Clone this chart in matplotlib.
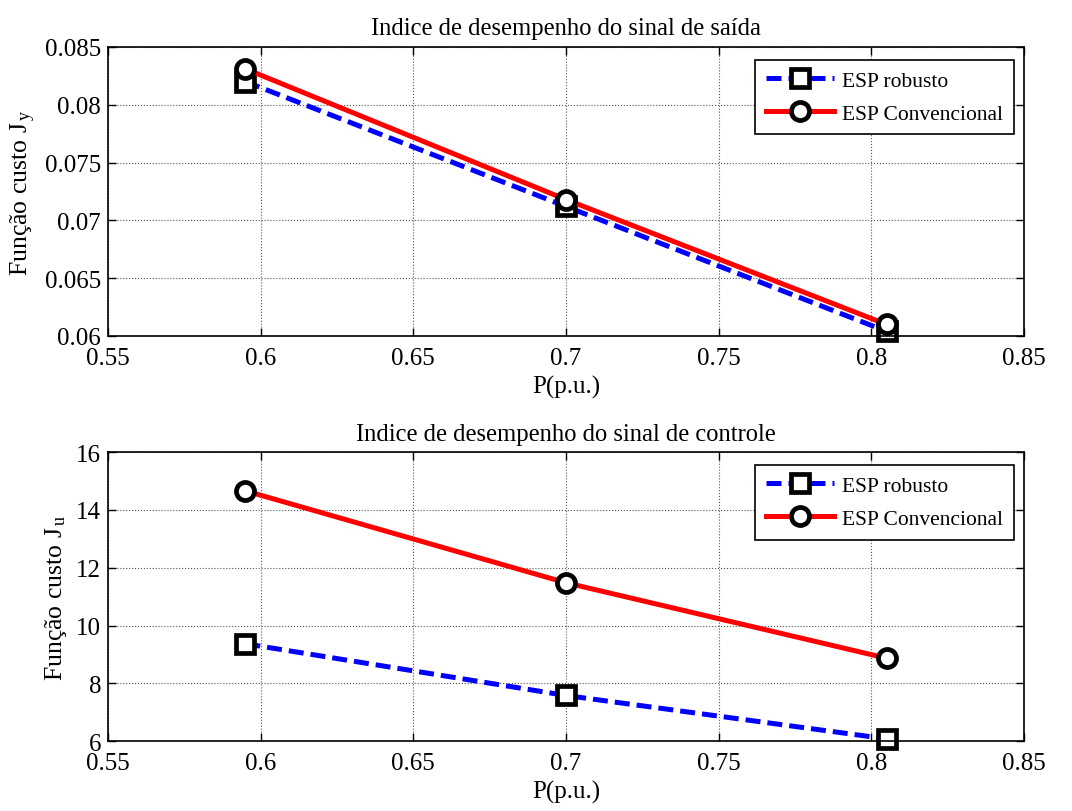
import matplotlib
matplotlib.use('Agg')
import matplotlib.pyplot as plt
from matplotlib.ticker import FormatStrFormatter

plt.rcParams['font.family'] = ['Liberation Serif', 'DejaVu Serif']
plt.rcParams['mathtext.fontset'] = 'custom'
plt.rcParams['mathtext.rm'] = 'Liberation Serif'
plt.rcParams['mathtext.it'] = 'Liberation Serif'

# data
P = [0.595, 0.7, 0.805]
jy_robusto = [0.0820, 0.0712, 0.0604]
jy_convencional = [0.0831, 0.0718, 0.0610]
ju_robusto = [9.37, 7.58, 6.08]
ju_convencional = [14.66, 11.48, 8.87]

x_ticks = [0.55, 0.6, 0.65, 0.7, 0.75, 0.8, 0.85]
y_ticks_top = [0.06, 0.065, 0.07, 0.075, 0.08, 0.085]
y_ticks_bot = [6, 8, 10, 12, 14, 16]

fig = plt.figure(figsize=(10.72, 8.12), dpi=100)
ax1 = fig.add_axes([0.1007, 0.585, 0.8545, 0.356])
ax2 = fig.add_axes([0.1007, 0.086, 0.8545, 0.356])


def style(ax, yticks, title, ylabel):
    ax.set_xlim(0.55, 0.85)
    ax.set_xticks(x_ticks)
    ax.set_yticks(yticks)
    ax.set_ylim(yticks[0], yticks[-1])
    ax.xaxis.set_major_formatter(FormatStrFormatter('%g'))
    ax.yaxis.set_major_formatter(FormatStrFormatter('%g'))
    ax.tick_params(direction='in', top=True, right=True, labelsize=18, length=6, width=1)
    ax.tick_params(axis='x', pad=8)
    ax.tick_params(axis='y', pad=5)
    ax.grid(True, linestyle=':', color='#555555', linewidth=0.8)
    for s in ax.spines.values():
        s.set_linewidth(1.2)
    ax.set_title(title, fontsize=17.7, pad=9)
    ax.set_xlabel('P(p.u.)', fontsize=18, labelpad=4)
    ax.set_ylabel(ylabel, fontsize=18.5, labelpad=5)
    leg = ax.legend(loc='upper right', fontsize=15.5, handlelength=3.15, handletextpad=0.4,
                    fancybox=False, edgecolor='black', framealpha=1, borderpad=0.5,
                    labelspacing=0.6, borderaxespad=0, bbox_to_anchor=(0.989, 0.955))
    leg.get_frame().set_linewidth(1.2)


mk = dict(markersize=13, markeredgewidth=3.4, markeredgecolor='black',
          markerfacecolor='white', clip_on=False)

ax1.plot(P, jy_robusto, 'b--', lw=3.6, marker='s', dashes=(3, 1.4), label='ESP robusto', **mk)
ax1.plot(P, jy_convencional, 'r-', lw=3.6, marker='o', label='ESP Convencional', **mk)
style(ax1, y_ticks_top, 'Indice de desempenho do sinal de saída', r'Função custo J$_{\,\mathrm{y}}$')

ax2.plot(P, ju_robusto, 'b--', lw=3.6, marker='s', dashes=(3, 1.4), label='ESP robusto', **mk)
ax2.plot(P, ju_convencional, 'r-', lw=3.6, marker='o', label='ESP Convencional', **mk)
style(ax2, y_ticks_bot, 'Indice de desempenho do sinal de controle', r'Função custo J$_{\,\mathrm{u}}$')

fig.savefig('out.png', dpi=100)
